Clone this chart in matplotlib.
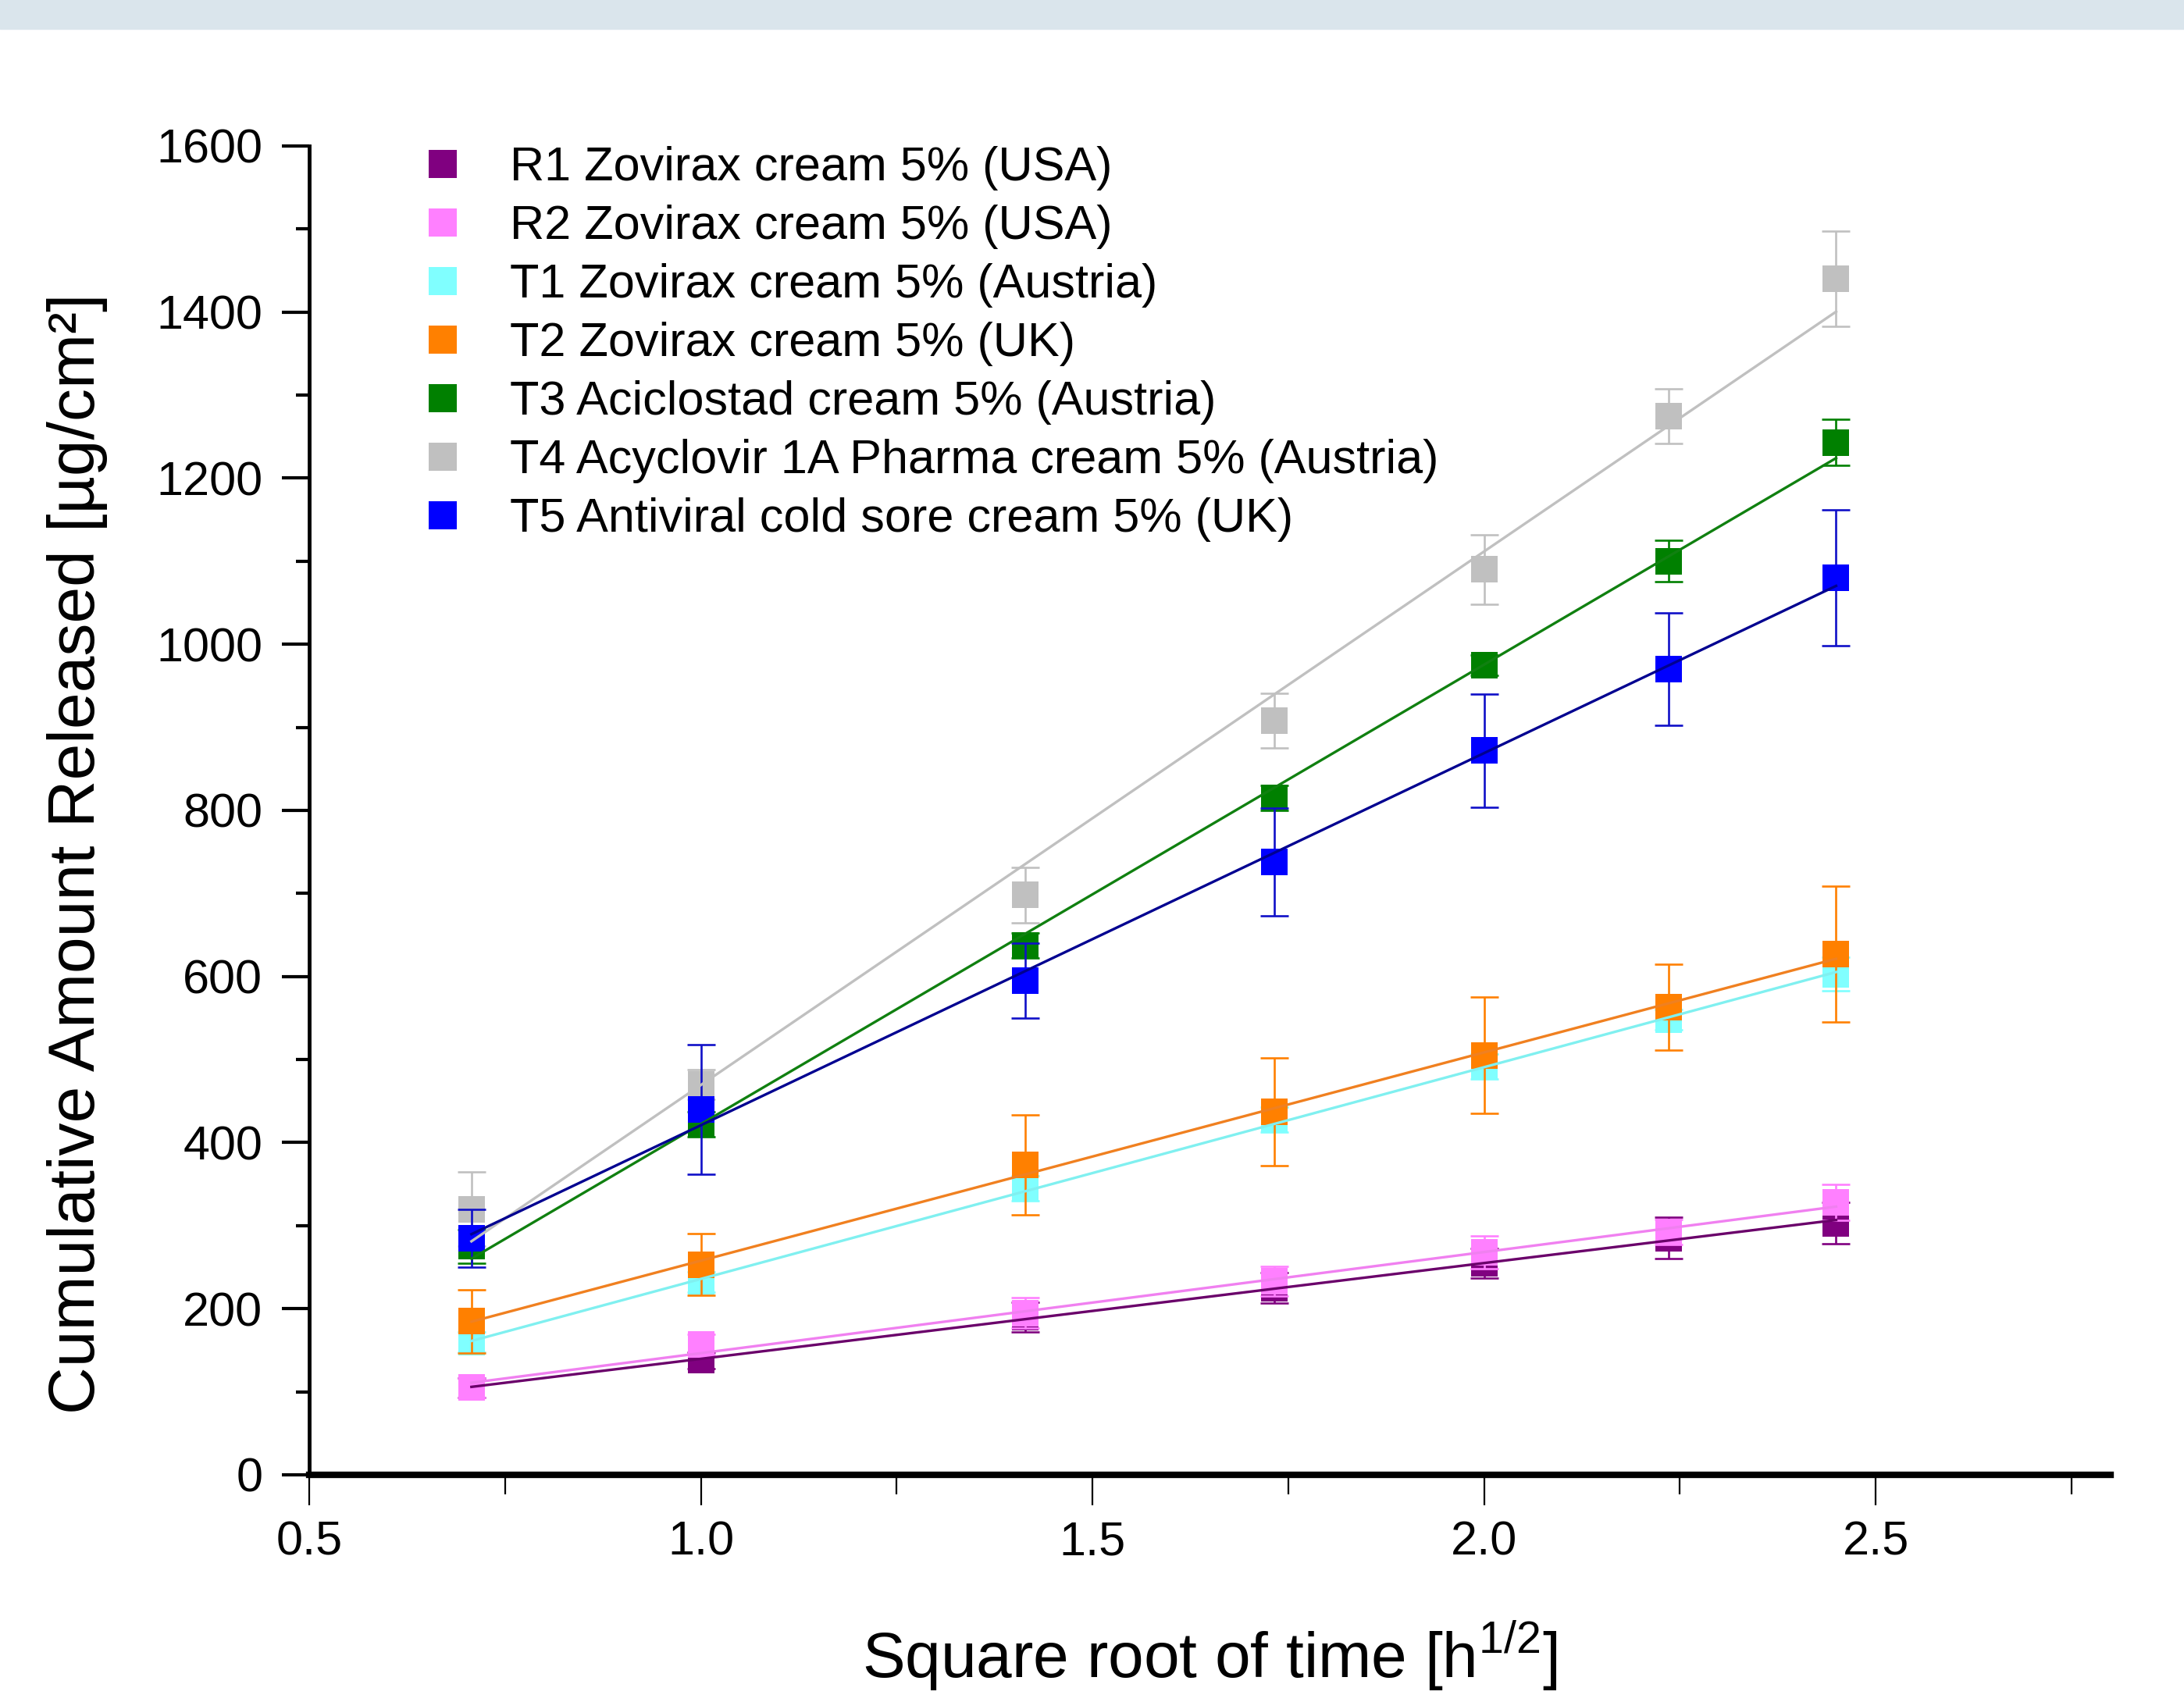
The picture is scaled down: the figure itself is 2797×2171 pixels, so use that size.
import numpy as np
import matplotlib
matplotlib.use("Agg")
import matplotlib.pyplot as plt
from matplotlib.lines import Line2D
from matplotlib.patches import Rectangle
from matplotlib.ticker import MultipleLocator

plt.rcParams["font.family"] = ["Liberation Sans", "DejaVu Sans"]
plt.rcParams["mathtext.fontset"] = "custom"
plt.rcParams["mathtext.rm"] = "Liberation Sans"

# square root of sampling time [h^1/2]
sqrt_time = np.sqrt([0.5, 1, 2, 3, 4, 5, 6])

labels = [
    "R1 Zovirax cream 5% (USA)",
    "R2 Zovirax cream 5% (USA)",
    "T1 Zovirax cream 5% (Austria)",
    "T2 Zovirax cream 5% (UK)",
    "T3 Aciclostad cream 5% (Austria)",
    "T4 Acyclovir 1A Pharma cream 5% (Austria)",
    "T5 Antiviral cold sore cream 5% (UK)",
]

# cumulative amount released [ug/cm2], mean and SD
r1 = [105, 138, 190, 225, 255, 285, 303]
r1_sd = [12, 10, 18, 18, 18, 25, 25]
r2 = [105, 157, 195, 233, 268, 292, 328]
r2_sd = [12, 12, 18, 18, 20, 15, 22]
t1 = [160, 232, 345, 428, 492, 548, 603]
t1_sd = [12, 12, 15, 15, 15, 12, 20]
t2 = [185, 253, 373, 437, 505, 563, 627]
t2_sd = [38, 37, 60, 65, 70, 52, 82]
t3 = [275, 422, 637, 815, 975, 1100, 1243]
t3_sd = [20, 15, 15, 15, 12, 25, 28]
t4 = [320, 470, 698, 908, 1090, 1275, 1440]
t4_sd = [45, 18, 33, 33, 42, 33, 57]
t5 = [285, 440, 595, 738, 872, 970, 1080]
t5_sd = [35, 78, 45, 65, 68, 68, 82]

means = [r1, r2, t1, t2, t3, t4, t5]
sds = [r1_sd, r2_sd, t1_sd, t2_sd, t3_sd, t4_sd, t5_sd]

marker_colors = ["#800080", "#ff80ff", "#80ffff", "#ff8000", "#008000", "#c0c0c0", "#0000ff"]
line_colors = ["#6a006a", "#f080f0", "#80f0f0", "#f08020", "#108010", "#c0c0c0", "#000090"]
err_colors = ["#800080", "#ff80ff", "#80ffff", "#ff8000", "#008000", "#c0c0c0", "#1010c8"]

fig = plt.figure(figsize=(27.97, 21.71), dpi=100)
ax = fig.add_axes([0.1416, 0.1299, 0.8248, 0.7840])

# thin banner at the top of the page
fig.add_artist(Rectangle((0, 1 - 37 / 2171), 1, 37 / 2171, transform=fig.transFigure,
                         color="#dae5ec", zorder=0))

for i, (m, s) in enumerate(zip(means, sds)):
    ax.errorbar(sqrt_time, m, yerr=s, fmt="none", ecolor=err_colors[i],
                elinewidth=1.9, capsize=13, capthick=1.9, zorder=2 + i)
    ax.plot(sqrt_time, m, "s", color=marker_colors[i], markersize=25,
            markeredgewidth=0, zorder=2 + i)

# linear fits drawn over the markers
for i, m in enumerate(means):
    slope, icpt = np.polyfit(sqrt_time, m, 1)
    xx = np.array([sqrt_time[0], sqrt_time[-1]])
    ax.plot(xx, slope * xx + icpt, "-", color=line_colors[i], lw=2.4, zorder=20)

ax.set_xlim(0.5, 2.8)
ax.set_ylim(0, 1600)
ax.xaxis.set_major_locator(MultipleLocator(0.5))
ax.xaxis.set_minor_locator(MultipleLocator(0.25))
ax.yaxis.set_major_locator(MultipleLocator(200))
ax.yaxis.set_minor_locator(MultipleLocator(100))
ax.xaxis.set_major_formatter(matplotlib.ticker.FormatStrFormatter("%.1f"))

for side in ["top", "right"]:
    ax.spines[side].set_visible(False)
ax.spines["left"].set_linewidth(3.5)
ax.spines["bottom"].set_linewidth(6)

ax.tick_params(axis="y", which="major", direction="out", length=25, width=3, pad=18, labelsize=44)
ax.tick_params(axis="y", which="minor", direction="out", length=12, width=3)
ax.tick_params(axis="x", which="major", direction="out", length=28, width=1.6, pad=14, labelsize=44)
ax.tick_params(axis="x", which="minor", direction="out", length=18, width=1.6)

ax.set_xlabel(r"Square root of time [h$^{\mathrm{1/2}}$]", fontsize=59, labelpad=50)
ax.set_ylabel("Cumulative Amount Released [µg/cm²]", fontsize=60.5)
ax.yaxis.set_label_coords(-0.112, 0.4675)

handles = [Line2D([], [], marker="s", linestyle="none", color=c, markersize=26,
                  markeredgewidth=0) for c in marker_colors]
ax.legend(handles, labels, loc="upper left", bbox_to_anchor=(0.061, 1.0),
          frameon=False, fontsize=44, handlelength=1.0, handletextpad=0.9,
          labelspacing=0.295, borderpad=0, borderaxespad=0)

fig.savefig("out.png", dpi=100)
